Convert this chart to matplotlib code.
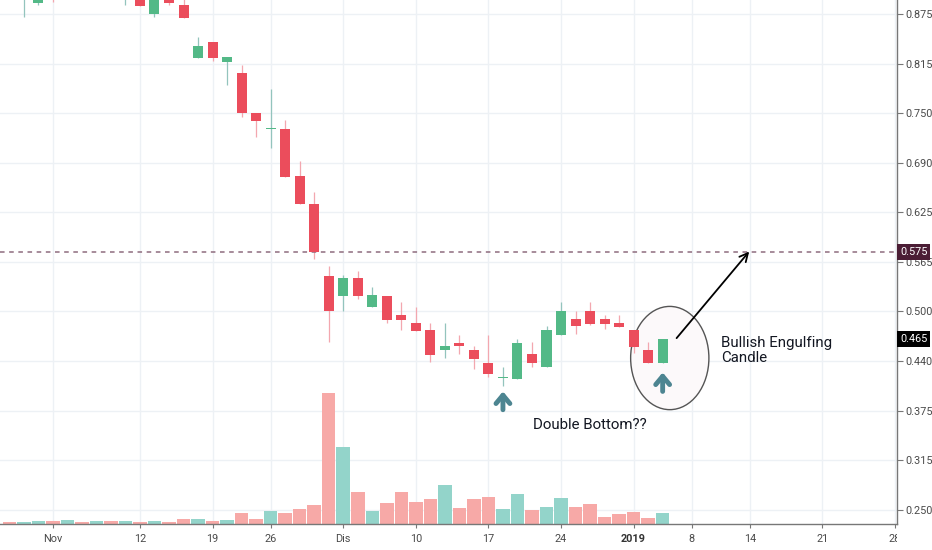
import matplotlib
matplotlib.use('Agg')
import matplotlib.pyplot as plt
from matplotlib.patches import Ellipse
from matplotlib.transforms import Affine2D, Bbox, TransformedBbox, blended_transform_factory

plt.rcParams['font.family'] = ['Roboto', 'DejaVu Sans']

# daily candles, trading days 29 Oct 2018 .. 4 Jan 2019 (first ones run off the top)
opens = [0.935, 0.900, 0.889, 0.920, 0.900, 0.915, 0.905, 0.915, 0.895, 0.905,
         0.875, 0.900, 0.886, 0.820, 0.840, 0.815, 0.801, 0.750, 0.730, 0.730,
         0.671, 0.635, 0.545, 0.520, 0.5415, 0.505, 0.520, 0.496, 0.485, 0.476,
         0.451, 0.460, 0.4515, 0.4355, 0.416, 0.415, 0.446, 0.430, 0.470, 0.490,
         0.501, 0.490, 0.485, 0.4765, 0.4515, 0.435]
highs = [0.940, 0.930, 0.920, 0.925, 0.920, 0.920, 0.925, 0.920, 0.910, 0.910,
         0.905, 0.905, 0.895, 0.846, 0.840, 0.821, 0.811, 0.750, 0.7805, 0.741,
         0.690, 0.651, 0.557, 0.546, 0.551, 0.531, 0.520, 0.512, 0.506, 0.485,
         0.486, 0.4705, 0.4565, 0.4705, 0.4305, 0.4655, 0.461, 0.482, 0.512, 0.501,
         0.512, 0.4955, 0.4955, 0.4765, 0.461, 0.4655]
lows = [0.900, 0.871, 0.8865, 0.8905, 0.895, 0.898, 0.900, 0.896, 0.8865, 0.8855,
        0.8715, 0.8865, 0.8695, 0.820, 0.816, 0.7855, 0.7455, 0.720, 0.7065, 0.670,
        0.635, 0.566, 0.461, 0.501, 0.5155, 0.505, 0.486, 0.477, 0.4755, 0.436,
        0.441, 0.4465, 0.4275, 0.417, 0.4065, 0.415, 0.4305, 0.430, 0.470, 0.4715,
        0.4825, 0.4775, 0.4805, 0.4475, 0.435, 0.435]
closes = [0.920, 0.920, 0.910, 0.900, 0.915, 0.905, 0.915, 0.900, 0.905, 0.8855,
          0.900, 0.889, 0.8695, 0.835, 0.820, 0.821, 0.750, 0.7405, 0.730, 0.670,
          0.635, 0.575, 0.500, 0.5415, 0.520, 0.5205, 0.489, 0.489, 0.4755, 0.445,
          0.456, 0.456, 0.440, 0.4205, 0.416, 0.460, 0.435, 0.476, 0.501, 0.481,
          0.4845, 0.4845, 0.4805, 0.4555, 0.435, 0.465]
volume = [200, 200, 300, 300, 400, 200, 300, 300, 300, 200,
          300, 200, 500, 500, 300, 400, 1130, 500, 1300, 1130,
          1530, 1930, 13070, 7670, 3170, 1300, 2070, 3170, 2170, 2500,
          3900, 1570, 2500, 2670, 1470, 3000, 1430, 1730, 2570, 1730,
          1970, 730, 1030, 1230, 630, 1130]

date_ticks = [3, 9, 14, 18, 23, 28, 33, 38, 43, 47, 51, 56, 61]
date_labels = ['Nov', '12', '19', '26', 'Dis', '10', '17', '24', '2019', '8', '14', '21', '28']
price_ticks = [0.875, 0.8125, 0.75, 0.6875, 0.625, 0.5625, 0.5, 0.4375, 0.375, 0.3125, 0.25]
price_labels = ['0.875', '0.815', '0.750', '0.690', '0.625', '0.565', '0.500',
                '0.440', '0.375', '0.315', '0.250']
resistance = 0.575
last_price = 0.465

UP, DOWN = '#53b987', '#eb4d5c'
UP_WICK, DOWN_WICK = '#93c4bd', '#f3a7af'
UP_VOL, DOWN_VOL = '#93d4ca', '#f7a9a7'
ARROW_C = '#4d8591'

fig = plt.figure(figsize=(9.32, 5.5), dpi=100)
ax = fig.add_axes([0, 26 / 550, 897 / 932, 524 / 550])
ax.set_xlim(-0.64, 61.14)
ax.set_ylim(0.2319, 0.8927)

n = len(closes)
xs = list(range(n))
up = [c >= o for o, c in zip(opens, closes)]

# volume drawn in the same axes, scaled to the lower part of the pane
vol_top = max(volume) * 4.01
vol_tf = blended_transform_factory(ax.transData, Affine2D().scale(1, 1 / vol_top) + ax.transAxes)
ax.bar(xs, volume, width=0.93, color=[UP_VOL if u else DOWN_VOL for u in up],
       transform=vol_tf, zorder=1)

# circle around the engulfing pair
ax.add_patch(Ellipse((45.49, 0.4412), 5.39, 0.1302, facecolor='#fcf9fa',
                     edgecolor='#555555', lw=1, zorder=1.5))

# candles
ax.vlines(xs, lows, highs, colors=[UP_WICK if u else DOWN_WICK for u in up], lw=0.9, zorder=2)
bodies = [max(abs(c - o), 0.0016) for o, c in zip(opens, closes)]
ax.bar(xs, bodies, bottom=[min(o, c) for o, c in zip(opens, closes)], width=0.69,
       color=[UP if u else DOWN for u in up], zorder=3)

ax.axhline(resistance, color='#8e6c7e', ls=(0, (3, 3)), lw=1.1, zorder=2.5)

# axes styling
ax.set_axisbelow(True)
ax.grid(True, color='#edf1f5', lw=1)
for s in ('top', 'left'):
    ax.spines[s].set_visible(False)
for s in ('right', 'bottom'):
    ax.spines[s].set_color('#777777')
    ax.spines[s].set_linewidth(1)
ax.yaxis.tick_right()
ax.set_yticks(price_ticks)
ax.set_yticklabels(price_labels)
ax.set_xticks(date_ticks)
ax.set_xticklabels(date_labels)
ax.tick_params(axis='y', length=4, width=0.8, color='#777777', pad=2,
               labelsize=7.8, labelcolor='#4a4a4a')
ax.tick_params(axis='x', length=3, width=0.8, color='#777777', pad=4,
               labelsize=7.8, labelcolor='#4a4a4a')
# time scale labels stop at the price scale
clip = TransformedBbox(Bbox([[0, 0], [897 / 932, 1]]), fig.transFigure)
for lab in ax.get_xticklabels():
    if lab.get_text() == '2019':
        lab.set_fontweight('bold')
        lab.set_color('#333333')
    lab.set_clip_box(clip)
    lab.set_clip_on(True)

# price tags on the right scale
tag_tf = blended_transform_factory(ax.transAxes, ax.transData)
for val, txt, bg in [(resistance, '0.575', '#4b1d35'), (last_price, '0.465', 'black')]:
    ax.text(1.0035, val, txt, transform=tag_tf, ha='left', va='center',
            fontsize=7.8, color='white', clip_on=False, zorder=5,
            bbox=dict(boxstyle='square,pad=0.25', fc=bg, ec='none'))

# annotations
ax.annotate('', xy=(50.96, 0.5755), xytext=(45.96, 0.4663),
            arrowprops=dict(arrowstyle='->', color='black', lw=1.3,
                            mutation_scale=15, shrinkA=0, shrinkB=0), zorder=4)
for ax_x, y0, y1 in [(34, 0.376, 0.3991), (45, 0.3991, 0.423)]:
    ax.annotate('', xy=(ax_x, y1), xytext=(ax_x, y0),
                arrowprops=dict(arrowstyle='->,head_length=0.3,head_width=0.25',
                                color=ARROW_C, lw=3.5, mutation_scale=20,
                                shrinkA=0, shrinkB=0, capstyle='round'), zorder=4)

ax.text(36.05, 0.3571, 'Double Bottom??', fontsize=10.8, color='#131722',
        ha='left', va='center', zorder=4)
ax.text(49.02, 0.4512, 'Bullish Engulfing\nCandle', fontsize=10.8, color='#131722',
        ha='left', va='center', linespacing=1.1, zorder=4)

fig.savefig('out.png', dpi=100)
